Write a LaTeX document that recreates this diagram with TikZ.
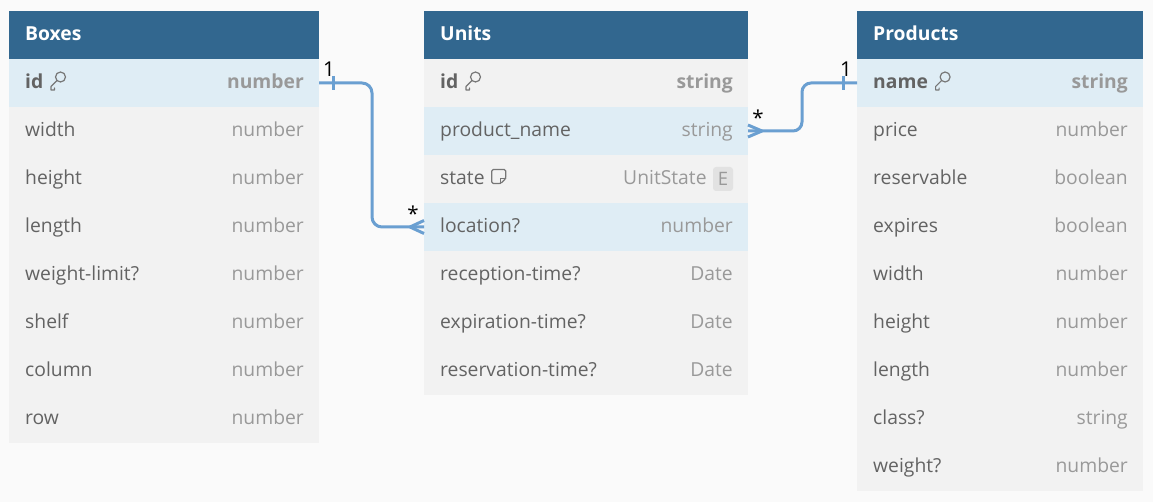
\documentclass[tikz,border=0pt]{standalone}
\usepackage{fontspec}
\setmainfont{Open Sans}
\usetikzlibrary{calc}
\definecolor{bgc}{HTML}{FAFAFA}
\definecolor{hdrblue}{HTML}{32678F}
\definecolor{hl}{HTML}{DFEDF5}
\definecolor{rowg}{HTML}{F2F2F2}
\definecolor{namec}{HTML}{636363}
\definecolor{typec}{HTML}{999999}
\definecolor{connc}{HTML}{6A9FD1}
\definecolor{iconc}{HTML}{777777}
\definecolor{badgec}{HTML}{E2E2E2}
\newcommand\fld[8]{%
  \node[rowbox, fill=#5, minimum width=#4] (#1-#2) at (#3,{11+48*#2}) {};
  \node[fname, #8] (#1-#2-n) at ([xshift=16pt,yshift=-5.5pt]#1-#2.west) {#6};
  \node[ftype, #8] (#1-#2-t) at ([xshift=-15pt,yshift=-5.5pt]#1-#2.east) {#7};
}
\newcommand\hdr[4]{%
  \node[rowbox, fill=hdrblue, minimum width=#3] (#1) at (#2,11) {};
  \node[htext] (#1-title) at ([xshift=16pt,yshift=-5.5pt]#1.west) {#4};
}
\newcommand\keyicon[1]{%
  \begin{scope}[shift={(#1)}]
    \draw[icon] (11,-11.5) circle (5);
    \draw[icon] (7.5,-8) -- (1.5,-2) -- (1.5,1.5) -- (5,1.5) -- (5,-0.5);
  \end{scope}
}
\begin{document}
\begin{tikzpicture}[x=1pt,y=-1pt,
  rowbox/.style={draw=none, inner sep=0pt, outer sep=0pt, minimum height=48pt, anchor=north west},
  fname/.style={anchor=base west, inner sep=0pt, text=namec, font=\fontsize{19.3}{22}\selectfont},
  ftype/.style={anchor=base east, inner sep=0pt, text=typec, font=\fontsize{19.3}{22}\selectfont},
  boldf/.style={font=\fontsize{19.3}{22}\selectfont\bfseries},
  htext/.style={anchor=base west, inner sep=0pt, text=white, font=\fontsize{19.3}{22}\selectfont\bfseries},
  conn/.style={draw=connc, line width=3pt},
  icon/.style={draw=iconc, line width=1.2pt, line cap=round, line join=round},
  card/.style={inner sep=0pt, text=black, font=\fontsize{20.5}{22}\selectfont}]
\fill[bgc] (0,0) rectangle (1153,502);
\useasboundingbox (0,0) rectangle (1153,502);

% Boxes
\hdr{boxes}{9}{310pt}{Boxes}
\fld{boxes}{1}{9}{310pt}{hl}{id}{number}{boldf}
\fld{boxes}{2}{9}{310pt}{rowg}{width}{number}{}
\fld{boxes}{3}{9}{310pt}{rowg}{height}{number}{}
\fld{boxes}{4}{9}{310pt}{rowg}{length}{number}{}
\fld{boxes}{5}{9}{310pt}{rowg}{weight-limit?}{number}{}
\fld{boxes}{6}{9}{310pt}{rowg}{shelf}{number}{}
\fld{boxes}{7}{9}{310pt}{rowg}{column}{number}{}
\fld{boxes}{8}{9}{310pt}{rowg}{row}{number}{}
\keyicon{$(boxes-1-n.base east)+(6,0)$}

% Units
\hdr{units}{424}{324pt}{Units}
\fld{units}{1}{424}{324pt}{rowg}{id}{string}{boldf}
\fld{units}{2}{424}{324pt}{hl}{product\_name}{string}{}
\fld{units}{3}{424}{324pt}{rowg}{state}{}{}
\fld{units}{4}{424}{324pt}{hl}{location?}{number}{}
\fld{units}{5}{424}{324pt}{rowg}{reception-time?}{Date}{}
\fld{units}{6}{424}{324pt}{rowg}{expiration-time?}{Date}{}
\fld{units}{7}{424}{324pt}{rowg}{reservation-time?}{Date}{}
\keyicon{$(units-1-n.base east)+(6,0)$}
\node[fill=badgec, rounded corners=3pt, minimum width=20pt, minimum height=24pt, inner sep=0pt,
      text=typec, font=\fontsize{18.5}{20}\selectfont] (ebadge) at ([xshift=-25pt]units-3.east) {E};
\node[ftype] (units-3-t2) at ([xshift=-6pt, yshift=-5.5pt]ebadge.west) {UnitState};
\begin{scope}[shift={($(units-3-n.base east)+(7,0)$)}]
  \draw[icon, rounded corners=1.5pt] (0,-15) -- (14,-15) -- (14,-6) -- (9,-1) -- (0,-1) -- cycle;
  \draw[icon] (14,-6) -- (9,-6) -- (9,-1);
\end{scope}

% Products
\hdr{products}{857}{286pt}{Products}
\fld{products}{1}{857}{286pt}{hl}{name}{string}{boldf}
\fld{products}{2}{857}{286pt}{rowg}{price}{number}{}
\fld{products}{3}{857}{286pt}{rowg}{reservable}{boolean}{}
\fld{products}{4}{857}{286pt}{rowg}{expires}{boolean}{}
\fld{products}{5}{857}{286pt}{rowg}{width}{number}{}
\fld{products}{6}{857}{286pt}{rowg}{height}{number}{}
\fld{products}{7}{857}{286pt}{rowg}{length}{number}{}
\fld{products}{8}{857}{286pt}{rowg}{class?}{string}{}
\fld{products}{9}{857}{286pt}{rowg}{weight?}{number}{}
\keyicon{$(products-1-n.base east)+(6,0)$}

% Connector Boxes.id -> Units.location
\coordinate (m1) at (372,155);
\draw[conn, rounded corners=10pt] (boxes-1.east) -| (m1) |- (units-4.west);
\draw[conn] ([xshift=14pt,yshift=7pt]boxes-1.east) -- ([xshift=14pt,yshift=-7pt]boxes-1.east);
\draw[conn] ([xshift=-14pt]units-4.west) -- ([yshift=6.5pt]units-4.west);
\draw[conn] ([xshift=-14pt]units-4.west) -- ([yshift=-6.5pt]units-4.west);
\node[card] (lab1) at ([xshift=10pt,yshift=14pt]boxes-1.east) {1};
\node[card] (lab2) at ([xshift=-11pt,yshift=13pt]units-4.west) {*};

% Connector Units.product_name -> Products.name
\coordinate (m2) at (802,107);
\draw[conn, rounded corners=9pt] (units-2.east) -| (m2) |- (products-1.west);
\draw[conn] ([xshift=-14pt,yshift=7pt]products-1.west) -- ([xshift=-14pt,yshift=-7pt]products-1.west);
\draw[conn] ([xshift=14pt]units-2.east) -- ([yshift=6pt]units-2.east);
\draw[conn] ([xshift=14pt]units-2.east) -- ([yshift=-6pt]units-2.east);
\node[card] (lab3) at ([xshift=-11pt,yshift=14pt]products-1.west) {1};
\node[card] (lab4) at ([xshift=10pt,yshift=13pt]units-2.east) {*};
\end{tikzpicture}
\end{document}
